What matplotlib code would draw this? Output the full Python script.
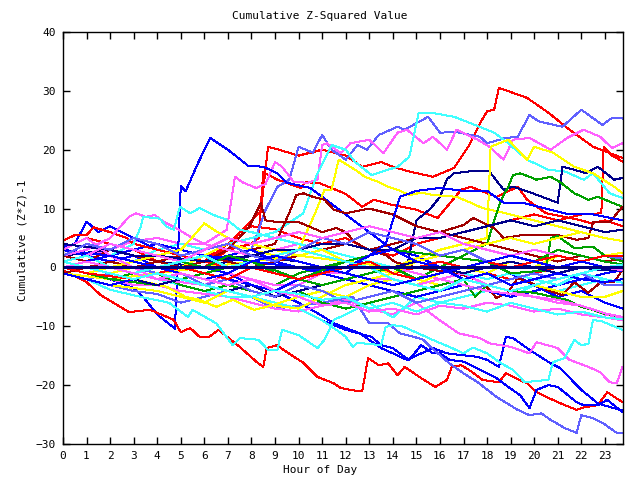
import matplotlib
matplotlib.use("Agg")
import matplotlib.pyplot as plt

# colours used by the original plot
RED = '#ff0000'
BLUE = '#0000ff'
MAG = '#ff60ff'
CYAN = '#40ffff'
YEL = '#ffff00'
GRN = '#00a000'
DRED = '#a00000'
SLATE = '#6060ff'
NAVY = '#00008b'

HOURLY = list(range(24)) + [23.75]

# each series: hours and cumulative (z*z)-1 values
red_top_h = [0, 1, 2, 3, 4, 5, 6, 7, 8, 8.4, 8.7, 9, 10, 11, 12, 12.7, 13.5, 14, 14.7, 15.7, 16.6, 17.2, 17.7, 18, 18.3, 18.5, 19, 19.7, 20.6, 21.5, 22.5, 23.75]
red_top_v = [3, 5, 4, 3, 1, 0, 1, 4, 8, 9.5, 20.5, 20.2, 19, 20, 19, 17.1, 17.9, 17.1, 16.3, 15.4, 16.9, 20.5, 24.5, 26.5, 26.8, 30.5, 29.8, 28.8, 26.3, 23.4, 20.5, 18.6]

red_mid_h = [0, 1, 2, 3, 4, 5, 6, 7, 8, 8.3, 8.5, 9.1, 10.1, 10.3, 10.9, 12, 12.7, 13.2, 14, 15, 15.9, 16.9, 17.3, 18.4, 19.3, 19.7, 20.5, 22, 22.4, 23, 23.75]
red_mid_v = [-1, 0, 1, 0, -1, 0, 2, 3, 4, 5, 16.2, 14.9, 13.5, 14.5, 14.3, 12.5, 10.3, 11.5, 10.6, 9.8, 8.4, 13.2, 13.7, 12, 13.7, 11.5, 9.2, 8, 7.5, 8, 7]

red_late_h = [0, 1, 2, 3, 4, 5, 6, 7, 7.5, 8, 9, 10, 11, 12, 13, 14, 15, 16, 17, 18, 19, 20, 21, 22, 22.85, 22.95, 23.3, 23.75]
red_late_v = [2, 1, 0, -1, 0, 1, 0, 3, 6, 7, 6.5, 5, 4, 5, 3, 2, 4, 5, 6, 7, 8, 9, 8, 9, 9.2, 20.5, 19, 18]

slate_top_h = [0, 1, 2, 3, 4, 5, 6, 7, 8, 8.6, 9.1, 9.6, 10, 10.6, 11, 11.4, 12, 12.5, 12.9, 13.4, 14.2, 14.5, 15.5, 16, 16.7, 17.7, 18, 18.8, 19.3, 19.8, 20.2, 21.2, 22, 22.9, 23.3, 23.75]
slate_top_v = [-1, -2, -1, 0, -1, 0, 1, 2, 3, 9.8, 13.7, 14.9, 20.5, 19.5, 22.5, 20, 18.3, 20.8, 20, 22.5, 23.9, 23.4, 25.6, 22.9, 23, 22.2, 21.1, 22, 22.2, 25.9, 24.8, 23.9, 26.8, 24.2, 25.4, 25.3]

mag_top_h = [0, 1, 2, 3, 4, 5, 6, 6.95, 7.3, 7.6, 8.2, 8.6, 9, 9.3, 9.8, 10.4, 10.8, 11, 11.2, 11.8, 12.2, 13, 13.6, 14.2, 14.6, 15.3, 15.7, 16.3, 16.7, 17.6, 18.1, 18.7, 19.1, 19.8, 20.7, 21.4, 22.1, 22.8, 23.3, 23.75]
mag_top_v = [1, 2, 3, 4.5, 5, 4, 4, 6.4, 15.4, 14.5, 13.5, 14.2, 17.9, 17.1, 14.5, 14.4, 14.9, 20.8, 21.1, 19.4, 21.1, 21.7, 19.4, 22.9, 23.4, 21.1, 22.2, 20, 23.4, 21.7, 20.5, 18.3, 21.7, 22, 20, 22, 23.4, 22.2, 20.3, 21.1]

cyan_top_h = [0, 1, 2, 3, 4, 5, 6, 7, 8, 9, 10.2, 10.8, 11.4, 12, 12.4, 13.1, 13.8, 14.2, 14.7, 15.1, 15.6, 16.6, 17.3, 18.3, 18.9, 19.7, 20.6, 21.3, 22.1, 22.5, 23.2, 23.75]
cyan_top_v = [0, 1, 2, 1, 3, 4, 3, 4, 5, 6, 9.2, 16, 20.8, 20, 17.9, 15.7, 16.6, 17.1, 18.8, 26.3, 26.3, 25.6, 24.5, 22.9, 21.1, 18.3, 16.6, 16.3, 14.9, 16, 12.6, 11.8]

blue_peak_h = [0, 1, 2, 3, 3.4, 4, 4.75, 5.0, 5.2, 5.75, 6.25, 7, 7.85, 8.5, 9.1, 9.5, 10.5, 11.9, 13, 14, 15, 16, 17, 18, 19, 20, 21, 22, 23, 23.75]
blue_peak_v = [0, -1, -2, -3.5, -5, -8, -10.4, 13.9, 12.9, 17.9, 22, 20, 17.3, 17.1, 16, 14.4, 13.5, 9.3, 6, 3, 2, 0, -1, -2, -1, -3, -5, -4, -6, -7]

blue_up_h = [0, 2, 4, 6, 8, 10, 12, 13, 14, 14.6, 15, 15.6, 16, 16.3, 16.6, 17.2, 18.1, 18.7, 19.1, 20, 21, 21.2, 21.7, 22.2, 22.7, 23.4, 23.75]
blue_up_v = [2, 3, 1, 0, 2, 1, -1, -2, -1, 0, 8, 10, 12, 15, 16, 16.3, 16.3, 13.2, 13.7, 12.5, 11, 17.1, 16.6, 16, 17.1, 14.9, 15.2]

red_low_h = [0, 1, 1.6, 2.8, 3.7, 4.7, 5, 5.4, 5.8, 6.2, 6.6, 7.5, 8.2, 8.5, 8.65, 9.1, 9.35, 10.2, 10.8, 11.5, 11.8, 12.5, 12.7, 12.95, 13.4, 13.8, 14.2, 14.5, 15.2, 15.8, 16.3, 16.5, 16.9, 17.3, 17.8, 18.5, 18.8, 19.3, 19.7, 20.1, 21, 21.8, 22.1, 22.7, 23.1, 23.75]
red_low_v = [-0.5, -2.5, -4.7, -7.6, -7.2, -8.9, -11, -10.3, -11.8, -11.8, -10.6, -13.5, -16, -16.9, -13.7, -13.2, -14, -16.2, -18.6, -19.7, -20.5, -21, -21, -15.4, -16.6, -16.3, -18.3, -16.9, -18.8, -20.3, -19.1, -16.9, -16.6, -17.6, -19.1, -19.5, -18, -19, -19.7, -21.2, -22.9, -24.2, -23.8, -23.4, -21.2, -22.9]

blue_low_h = [0, 1, 2, 3, 4, 5, 6, 7, 8, 9, 10, 11, 12, 13.1, 13.5, 14, 14.4, 14.7, 15.2, 15.7, 16, 16.4, 17, 18.4, 18.9, 19.4, 19.8, 20.1, 20.6, 21, 21.8, 22.1, 22.7, 23.1, 23.75]
blue_low_v = [1, 0, -1, -2, -1, -2, -3, -4, -5, -6, -7, -9, -10.6, -11.8, -13.2, -13.7, -14.9, -15.7, -13.2, -14.6, -14.6, -15.7, -16, -18.8, -20.3, -21.7, -23.9, -20.8, -20, -20.3, -22.9, -23.4, -23.4, -22.5, -24.6]

blue_jump_h = [0, 1, 2, 3, 4, 5, 6, 7, 8, 9, 10, 10.9, 11.5, 12.6, 13.5, 14, 14.6, 15.7, 16.3, 17.6, 18, 18.5, 18.8, 19.1, 19.8, 20.7, 21.1, 22, 22.7, 23.2, 23.75]
blue_jump_v = [3, 2, 1, 2, 0, 1, 0, -1, -3, -4, -6, -8, -9.5, -11.2, -13.7, -14.6, -15.7, -13.7, -14.6, -15.2, -15.7, -16.9, -11.8, -12, -14, -16.3, -17.1, -20.8, -23.1, -23.7, -24.3]

slate_low_h = [0, 1, 2, 3, 4, 5, 6, 7, 8, 9, 10, 11, 12.3, 13, 13.8, 14.3, 14.9, 15.3, 15.6, 16.4, 17, 17.6, 18.4, 19.3, 19.8, 20.3, 20.7, 21.3, 21.8, 22, 22.5, 22.9, 23.5, 23.75]
slate_low_v = [-1, -2, -3, -4, -4.5, -6, -5, -4, -5, -7, -6.5, -6, -5, -9.5, -9.5, -11.2, -11.8, -12.3, -13.5, -16.3, -18, -19.5, -22, -24.2, -25.1, -24.8, -25.9, -27.3, -28.1, -25.1, -25.6, -26.4, -28.1, -28.2]

mag_low_h = [0, 1, 2, 3, 4, 5, 6, 7, 8, 9, 10, 11, 12, 13, 14, 15, 15.5, 16, 16.4, 16.8, 17.7, 18.1, 19, 19.8, 20.1, 21, 21.5, 22.3, 22.8, 23.2, 23.5, 23.75]
mag_low_v = [0, -1, -2, -3, -3, -4, -4.5, -5, -6, -7, -7.5, -6.5, -5.5, -7, -8, -6, -7.5, -9, -10.1, -11.2, -12, -12.9, -13.5, -14.6, -12.7, -13.7, -15.7, -16.9, -17.8, -19.5, -19.7, -16.9]

cyan_low_h = [0, 1, 2, 3.3, 4.5, 5.3, 5.5, 6.5, 7.2, 7.5, 8.3, 8.7, 9.1, 9.3, 10, 10.8, 11.1, 11.5, 12, 13, 14, 15, 16, 17, 18, 19, 20, 21, 22, 23, 23.75]
cyan_low_v = [-1, -2, -3.8, -5, -6, -8.4, -7.2, -9.5, -13.2, -12, -12.3, -14, -14, -10.6, -11.5, -13.7, -12.3, -8.9, -8, -6, -8.5, -5, -6, -5, -4, -5, -3, -4, -3, -2, -2.6]

cyan_low2_h = [0, 1, 2, 3, 4, 5, 6, 7, 8, 9, 10, 11, 11.6, 12, 12.3, 12.5, 13.5, 13.7, 14, 14.4, 15.8, 16.4, 17, 17.4, 18, 18.6, 19.1, 19.6, 20.6, 20.8, 21.3, 21.7, 22, 22.3, 22.5, 22.9, 23.75]
cyan_low2_v = [0, -1, -2, -1, -2, -3, -4, -5, -5, -6, -7, -9, -10.6, -11.8, -13.5, -12.8, -13.2, -10.1, -9.8, -10, -12.5, -13.5, -14.6, -13.6, -14.6, -16.3, -17.4, -19.5, -19.1, -16.1, -15.4, -12.3, -13.2, -13, -8.9, -9.2, -10.6]

yel_jump_h = [0, 2, 4, 6, 8, 10, 12, 14, 16, 17, 18, 18.15, 18.9, 19.7, 20, 20.8, 21.7, 22.5, 23.4, 23.75]
yel_jump_v = [-1, -2, -1, 0, 1, 2, 1, 0, 3, 4, 5, 20.5, 21.7, 18.3, 20.5, 19.5, 17.1, 16, 13.7, 12.6]

yel_mid_h = [0, 1, 2, 3, 4, 5, 6, 7, 8, 9, 10, 10.7, 11.1, 11.4, 11.7, 12.4, 12.8, 13.4, 13.8, 14.2, 14.7, 15.2, 15.7, 16.7, 17.3, 17.8, 19, 20, 21, 22, 23, 23.75]
yel_mid_v = [1, 0, -1, 0, 1, 0, 2, 4, 3, 2, 3, 9.2, 13.2, 13.2, 18.3, 16.6, 15.4, 14.5, 13.7, 13.2, 12.3, 12.7, 12.3, 12, 11, 10.1, 9, 8, 7, 6, 5, 4.5]

grn_up_h = [0, 1, 2, 3, 4, 5, 6, 7, 8, 9, 10, 11, 12, 13, 14, 15, 16, 17, 18, 18.4, 18.6, 18.9, 19.1, 19.4, 19.8, 20.1, 20.7, 21.1, 21.7, 22.3, 22.7, 23.75]
grn_up_v = [-1, -2, -3, -2, -1, -3, -4, -3, -2, -3, -1, 0, 1, 0, -1, -2, 0, 2, 4, 9.2, 11.5, 13.7, 15.7, 16, 15.4, 14.9, 15.4, 14.5, 12.6, 11.5, 12, 10.3]

dred_a_h = [0, 1, 2, 3, 4, 5, 6, 7, 8, 9, 10, 11, 12, 13, 14, 15, 16, 17, 17.4, 18.3, 18.7, 19.5, 20.3, 21, 21.8, 22.3, 22.5, 23.2, 23.75]
dred_a_v = [0, 1, 2, 1, 0, 1, 2, 1, 0, 1, 2, 3, 4, 3, 4, 5, 6, 7.2, 8.4, 6.7, 5, 5.5, 5.5, 5.5, 4.7, 5, 7.7, 7.7, 10.3]

dred_b_h = [0, 1, 2, 3, 4, 5, 6, 7, 7.9, 8.4, 8.6, 9.1, 10, 10.6, 11, 11.6, 12, 12.4, 12.8, 13.3, 13.7, 14.1, 15, 16.3, 17, 17.8, 18.4, 18.9, 19.3, 19.8, 20.3, 21.2, 21.7, 22.3, 22.8, 23.4, 23.75]
dred_b_v = [-1, 0, 1, 0, 1, 2, 1, 3, 6.9, 10.9, 8, 7.7, 7.7, 6.7, 6, 6.7, 6, 4.3, 3.3, 2.6, 2.1, 0.9, 0, -0.8, -1.3, -2.5, -5.2, -4.2, -1.8, -2.5, -3.5, -4.7, -2.5, -4.3, -2.6, -2.5, -0.4]

dred_c_h = [0, 1, 2, 3, 4, 5, 6, 7, 8, 9, 9.6, 9.9, 10.2, 10.6, 11.1, 11.5, 12, 13, 14, 15, 16, 17, 18, 19, 20, 21, 22, 23, 23.75]
dred_c_v = [2, 1, 3, 2, 1, 0, 1, 2, 3, 4, 9.2, 12.3, 12.6, 12, 11.5, 9.8, 9.2, 10, 9, 7, 6, 5, 4, 3, 2, 1, 2, 1, 1.5]

blue_mid_h = [0, 2, 4, 6, 8, 10, 12, 13, 13.7, 14.3, 15, 16, 17, 18, 18.7, 19.5, 20.5, 21.5, 22.5, 23.75]
blue_mid_v = [3, 2, 4, 2, 1, 0, -1, 2, 4, 12, 13, 13.5, 13, 13, 11, 11, 10, 9, 9, 8]

blue_early_h = [0, 0.5, 1, 1.5, 2, 2.5, 3, 4, 5, 6, 7, 8, 9, 10, 11, 12, 13, 14, 15, 16, 17, 18, 19, 20, 21, 22, 23, 23.75]
blue_early_v = [3.5, 4, 7.8, 6, 7, 6, 5, 3, 2, 1, 2, 3, 1, 0, -1, -2, -3, -4, -5, -4, -3, -4, -5, -4, -3, -2, -1, -0.5]

red_early_h = [0, 0.5, 1, 1.3, 2, 2.7, 3, 4, 5, 6, 7, 8, 9, 10, 11, 12, 13, 14, 15, 16, 17, 18, 19, 20, 21, 22, 23, 23.75]
red_early_v = [4.5, 5.5, 5.5, 6.8, 6, 5, 4, 3, 2, 1, 0, 1, 2, 1, 0, -1, -2, -1, 0, 1, 0, -1, -2, -1, 0, 1, 0, 0.5]

mag_early_h = [0, 1, 2, 2.8, 3.1, 3.5, 3.9, 4.3, 4.7, 5.5, 6, 7, 8, 9, 10, 11, 12, 13, 14, 15, 16, 17, 18, 19, 20, 21, 22, 23, 23.75]
mag_early_v = [2, 3, 5, 8.6, 9.2, 8.6, 8.9, 7.7, 6.9, 5, 4, 3, 2, 3, 4, 3, 2, 1, 0, -1, -2, -1, -3, -4, -5, -6, -6.5, -8, -8.5]

cyan_early_h = [0, 1, 2, 3, 3.3, 3.4, 4.1, 4.4, 4.7, 4.96, 5.4, 5.8, 6.4, 6.95, 7.5, 8, 9, 10, 11, 12, 13, 14, 15, 16, 17, 18, 19, 20, 21, 22, 23, 23.75]
cyan_early_v = [0, 1, 2, 4, 6.9, 8.6, 8.3, 6.9, 6.4, 10.3, 9.2, 10.1, 8.9, 8.1, 6.4, 6, 5, 4, 3, 2, 1, 0, 1, 0, -1, -2, -1, -2, -3, -1, -2, -2.6]

yel_early_h = [0, 1, 2, 3, 4, 5, 5.4, 6, 6.4, 7, 8, 9, 10, 11, 12, 13, 14, 15, 16, 17, 18, 19, 20, 21, 22, 23, 23.75]
yel_early_v = [0, -1, 0, 1, 2, 3, 4.7, 7.5, 6.4, 5, 4, 3, 2, 3, 1, 0, -1, -2, -3, -2, -3, -4, -3, -4, -5, -5, -4]

yel_low_h = [0, 1, 2, 3, 4.4, 5.2, 5.8, 6.5, 7.2, 8.1, 8.65, 9.2, 10, 11, 12, 13, 14, 15, 16, 17, 18, 19, 20, 21, 22, 23, 23.75]
yel_low_v = [0, -1, -1.5, -2, -3.3, -5, -5.5, -6.7, -5.5, -7.2, -6.7, -6, -5, -4, -5, -3, -2, -3, -1, 0, -1, 1, 0, 2, 1, 2, 2.5]

grn_low_h = [0, 1, 2, 3, 4, 5, 6, 7, 8, 9, 10, 11, 12, 13, 14, 15, 16, 17, 17.5, 18, 19, 20, 20.8, 21.4, 22, 22.5, 22.9, 23.75]
grn_low_v = [0, -1, -2, -1, 0, -1, -2, -3, -4, -5, -4, -6, -7, -6, -5, -4, -3, -2, -5, -3, -4, -4.3, -5, -5.5, -6.7, -7.2, -7.8, -8.4]

grn_step_h = [0, 2, 4, 6, 8, 10, 12, 14, 16, 18, 19, 20.5, 20.7, 21, 21.7, 22.5, 23, 23.75]
grn_step_v = [0, -2, -3, -1, 1, -2, 1, 3, 2, 1, -1, -0.5, 5, 5.3, 3.3, 3.5, 2, 1]

# remaining lines of the central bundle, read at whole hours
mag_mid_v = [3, 5, 2, 0, -2, -2.5, -3, -1, -2, -3, -3, -1, -1, -2, -2, -3, -2, -3, -4, -4.5, -5, -5.5, -6.5, -7.8, -8.4]
yel_bundle_v = [-1, -2, -3, -3.5, -4, -5, -6, -4, -5, -6.5, -7, -5, -3, -2, -1, 1, 2, 3, 4, 5, 4, 5, 6, 5, 4.5]
navy_bundle_v = [1, 0, -1, -2, -3, -2, -3, -4, -3, -5, -4, -3, -2, -1, 0, 1, 0, -1, 0, 1, 0, -1, 0, -0.5, -0.4]
navy_high_v = [4, 3.5, 3, 2, 2, 1.5, 1, 1.5, 2, 3, 3, 4, 4, 3, 3, 5, 5, 6, 7, 8, 7, 8, 7, 6, 6.4]
slate_mid_v = [0, 1, 0, -1, -2, -1, -3, -2, -4, -5, -3, -4, -6, -5, -4, -6, -5, -4, -3, -2, -1, -2, -1, -3, -3]
slate_high_v = [2, 4, 3, 5, 4, 2, 3, 4, 2, 1, 3, 5, 4, 6, 5, 4, 2, 3, 1, 2, 3, 2, 1, 2, 1.5]
grn_mid_v = [0, 1, 0, -1, 0, 1, 0, 2, 1, -1, -2, -3, -2, -1, 0, -2, -1, 0, 1, 2, 1, 3, 2, 1, 0.5]
mag_bundle_v = [1, 2, 4, 3, 2, 1, 3, 5, 4, 5, 6, 5, 6, 7, 6, 5, 6, 4, 3, 2, 3, 2, 1, 0, -0.5]
blue_bundle_v = [-1, -2, -3, -2, -1, 0, -1, -2, -3, -4, -2, -1, 0, 2, 3, 1, 0, -2, -1, -3, -2, -1, -2, -2.5, -2]
cyan_bundle_v = [1, 2, 0, -1, 0, 1, 2, 0, 1, 2, 3, 2, 1, 0, -2, -3, -4, -2, -3, -4, -3, -2, -1, 0, 0.5]
red_bundle_v = [0, -1, -1.5, -2, -1, 0, -1, -2, 0, -1, -2, -1, 0, 1, -1, -2, -1, 0, 1, 0, 1, 2, 1, 2, 2]
blue_zero_v = [0, 1, 2, 1, 0, -1, -2, -1, 1, 2, 1, 0, -1, -2, -3, -2, -1, 0, 1, 2, 1, 0, 1, 0, 0]
mag_fall_v = [0, 1, 0, -1, -2, -1, -2, -3, -2, -4, -5, -6.5, -6, -7.5, -7, -8, -6.5, -7, -6, -6.5, -7.5, -7, -8, -8.5, -9]
cyan_fall_v = [1, 0, -1, -2, -1, -2, -3, -4, -5, -4, -4.5, -5.5, -5, -7, -6, -7.5, -6, -6.5, -7.5, -6, -7, -8, -7.5, -8.5, -8.8]

series = [
    (red_top_h, red_top_v, RED),
    (red_mid_h, red_mid_v, RED),
    (red_late_h, red_late_v, RED),
    (slate_top_h, slate_top_v, SLATE),
    (mag_top_h, mag_top_v, MAG),
    (cyan_top_h, cyan_top_v, CYAN),
    (blue_peak_h, blue_peak_v, BLUE),
    (blue_up_h, blue_up_v, NAVY),
    (red_low_h, red_low_v, RED),
    (blue_low_h, blue_low_v, BLUE),
    (blue_jump_h, blue_jump_v, BLUE),
    (slate_low_h, slate_low_v, SLATE),
    (mag_low_h, mag_low_v, MAG),
    (cyan_low_h, cyan_low_v, CYAN),
    (cyan_low2_h, cyan_low2_v, CYAN),
    (yel_jump_h, yel_jump_v, YEL),
    (yel_mid_h, yel_mid_v, YEL),
    (grn_up_h, grn_up_v, GRN),
    (dred_a_h, dred_a_v, DRED),
    (dred_b_h, dred_b_v, DRED),
    (dred_c_h, dred_c_v, DRED),
    (blue_mid_h, blue_mid_v, BLUE),
    (blue_early_h, blue_early_v, BLUE),
    (red_early_h, red_early_v, RED),
    (mag_early_h, mag_early_v, MAG),
    (cyan_early_h, cyan_early_v, CYAN),
    (yel_early_h, yel_early_v, YEL),
    (yel_low_h, yel_low_v, YEL),
    (grn_low_h, grn_low_v, GRN),
    (grn_step_h, grn_step_v, GRN),
    (HOURLY, mag_mid_v, MAG),
    (HOURLY, yel_bundle_v, YEL),
    (HOURLY, navy_bundle_v, NAVY),
    (HOURLY, navy_high_v, NAVY),
    (HOURLY, slate_mid_v, SLATE),
    (HOURLY, slate_high_v, SLATE),
    (HOURLY, grn_mid_v, GRN),
    (HOURLY, mag_bundle_v, MAG),
    (HOURLY, blue_bundle_v, BLUE),
    (HOURLY, cyan_bundle_v, CYAN),
    (HOURLY, red_bundle_v, RED),
    (HOURLY, blue_zero_v, BLUE),
    (HOURLY, mag_fall_v, MAG),
    (HOURLY, cyan_fall_v, CYAN),
]

plt.rcParams['font.family'] = 'DejaVu Sans Mono'

fig = plt.figure(figsize=(6.4, 4.8), dpi=100)
ax = fig.add_axes([63 / 640, 1 - 444 / 480, 560 / 640, 412 / 480])

for h, v, c in series:
    ax.plot(h, v, color=c, lw=0.72, antialiased=False)

ax.axhline(0, color='#000080', lw=1.0, antialiased=False)

ax.set_xlim(0, 23.77)
ax.set_ylim(-30, 40)
ax.set_xticks(range(24))
ax.set_yticks(range(-30, 41, 10))
ax.tick_params(direction='in', length=5, width=1, top=True, right=True,
               labelsize=8, pad=5)
for s in ax.spines.values():
    s.set_linewidth(1)

fig.text(0.5, 1 - 16 / 480, 'Cumulative Z-Squared Value', ha='center', va='center', fontsize=8)
fig.text(0.5, 1 - 470 / 480, 'Hour of Day', ha='center', va='center', fontsize=8)
fig.text(23 / 640, 0.5, 'Cumulative (Z*Z)-1', ha='center', va='center', rotation=90, fontsize=8)

fig.savefig('out.png', dpi=100)
